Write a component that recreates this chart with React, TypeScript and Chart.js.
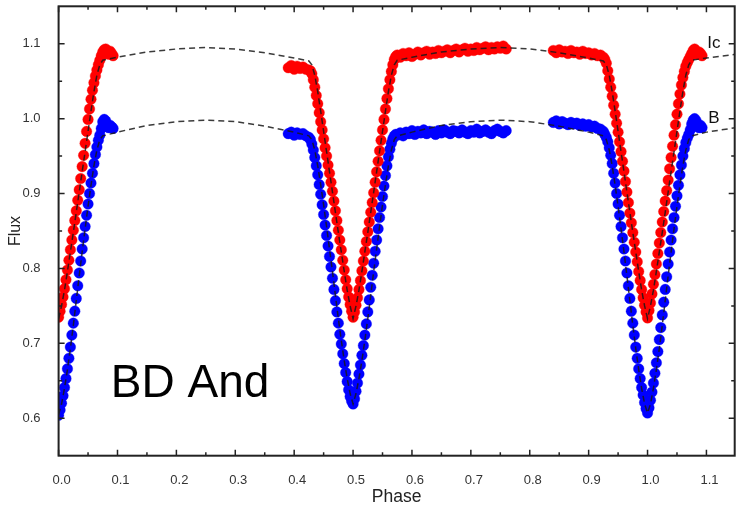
import React, { useEffect, useRef } from "react";
import { Chart, registerables } from "chart.js";
Chart.register(...registerables);

const FONT = '"Liberation Sans", Arial, sans-serif';

const starName = "BD And";
const xTitle = "Phase";
const yTitle = "Flux";
const seriesNames = ["Ic", "B"];

const xMajor = [0, 0.1, 0.2, 0.3, 0.4, 0.5, 0.6, 0.7, 0.8, 0.9, 1.0, 1.1];
const xMinor = [0.05, 0.15, 0.25, 0.35, 0.45, 0.55, 0.65, 0.75, 0.85, 0.95, 1.05];
const yMajor = [0.6, 0.7, 0.8, 0.9, 1.0, 1.1];
const yMinor = [0.65, 0.75, 0.85, 0.95, 1.05];

// observed phases (shared grid for both filters)
const seg1Phase = [0, 0.0025, 0.005, 0.0075, 0.01, 0.0125, 0.015, 0.0175, 0.02, 0.0225, 0.025, 0.0275, 0.03, 0.0325, 0.035, 0.0375, 0.04, 0.0425, 0.045, 0.0475, 0.05, 0.0525, 0.055, 0.0575, 0.06, 0.0625, 0.065, 0.0675, 0.07, 0.0725, 0.075, 0.0775, 0.08, 0.0825, 0.085, 0.0875, 0.09, 0.0925];
const seg2Phase = [0.39, 0.395, 0.4, 0.405, 0.41, 0.415, 0.42, 0.425,
  0.4275, 0.43, 0.4325, 0.435, 0.4375, 0.44, 0.4425, 0.445, 0.4475, 0.45, 0.4525, 0.455, 0.4575, 0.46, 0.4625, 0.465, 0.4675, 0.47, 0.4725, 0.475, 0.4775, 0.48, 0.4825, 0.485, 0.4875, 0.49, 0.4925, 0.495, 0.4975, 0.5,
  0.5025, 0.505, 0.5075, 0.51, 0.5125, 0.515, 0.5175, 0.52, 0.5225, 0.525, 0.5275, 0.53, 0.5325, 0.535, 0.5375, 0.54, 0.5425, 0.545, 0.5475, 0.55, 0.5525, 0.555, 0.5575, 0.56, 0.5625, 0.565, 0.5675, 0.57, 0.5725,
  0.575, 0.58, 0.585, 0.59, 0.595, 0.6, 0.605, 0.61, 0.615, 0.62, 0.625, 0.63, 0.635, 0.64, 0.645, 0.65, 0.655, 0.66, 0.665, 0.67, 0.675, 0.68, 0.685, 0.69, 0.695, 0.7, 0.705, 0.71, 0.715, 0.72, 0.725, 0.73, 0.735, 0.74, 0.745, 0.75, 0.755, 0.76];
const seg3Phase = [0.84, 0.845, 0.85, 0.855, 0.86, 0.865, 0.87, 0.875, 0.88, 0.885, 0.89, 0.895, 0.9, 0.905, 0.91, 0.915, 0.92, 0.925,
  0.9275, 0.93, 0.9325, 0.935, 0.9375, 0.94, 0.9425, 0.945, 0.9475, 0.95, 0.9525, 0.955, 0.9575, 0.96, 0.9625, 0.965, 0.9675, 0.97, 0.9725, 0.975, 0.9775, 0.98, 0.9825, 0.985, 0.9875, 0.99, 0.9925, 0.995, 0.9975, 1.0,
  1.0025, 1.005, 1.0075, 1.01, 1.0125, 1.015, 1.0175, 1.02, 1.0225, 1.025, 1.0275, 1.03, 1.0325, 1.035, 1.0375, 1.04, 1.0425, 1.045, 1.0475, 1.05, 1.0525, 1.055, 1.0575, 1.06, 1.0625, 1.065, 1.0675, 1.07, 1.0725,
  1.075, 1.0775, 1.08, 1.0825, 1.085, 1.0875, 1.09, 1.0925];

// Ic observed flux
const icSeg1 = [0.735, 0.743, 0.752, 0.762, 0.773, 0.785, 0.798, 0.811, 0.825, 0.838, 0.851, 0.864, 0.877, 0.891, 0.905, 0.920, 0.936, 0.951, 0.967, 0.983, 0.999, 1.013, 1.026, 1.038, 1.048, 1.057, 1.065, 1.072, 1.078, 1.084, 1.089, 1.092, 1.093, 1.088, 1.086, 1.090, 1.087, 1.084];
const icSeg2 = [1.068, 1.071, 1.066, 1.070, 1.067, 1.069, 1.066, 1.065,
  1.064, 1.060, 1.052, 1.042, 1.031, 1.020, 1.008, 0.996, 0.985, 0.973, 0.961, 0.950, 0.938, 0.927, 0.915, 0.903, 0.890, 0.877, 0.864, 0.851, 0.838, 0.825, 0.811, 0.798, 0.785, 0.773, 0.762, 0.752, 0.743, 0.735,
  0.742, 0.751, 0.761, 0.772, 0.784, 0.797, 0.810, 0.823, 0.836, 0.849, 0.862, 0.875, 0.888, 0.901, 0.915, 0.929, 0.943, 0.957, 0.971, 0.985, 0.999, 1.013, 1.027, 1.040, 1.052, 1.063, 1.072, 1.079, 1.083,
  1.085, 1.082, 1.087, 1.084, 1.088, 1.083, 1.086, 1.089, 1.085, 1.088, 1.090, 1.086, 1.089, 1.087, 1.091, 1.088, 1.090, 1.092, 1.088, 1.091, 1.093, 1.089, 1.092, 1.094, 1.090, 1.093, 1.091, 1.095, 1.092, 1.094, 1.096, 1.092, 1.095, 1.093, 1.096, 1.094, 1.097, 1.093];
const icSeg3 = [1.091, 1.088, 1.092, 1.089, 1.090, 1.087, 1.091, 1.088, 1.089, 1.086, 1.090, 1.087, 1.088, 1.085, 1.087, 1.084, 1.085, 1.082,
  1.079, 1.074, 1.064, 1.053, 1.042, 1.030, 1.018, 1.006, 0.994, 0.982, 0.969, 0.956, 0.943, 0.930, 0.916, 0.902, 0.888, 0.874, 0.861, 0.848, 0.835, 0.822, 0.809, 0.796, 0.784, 0.772, 0.761, 0.751, 0.742, 0.734,
  0.744, 0.754, 0.766, 0.779, 0.792, 0.806, 0.820, 0.834, 0.848, 0.862, 0.876, 0.890, 0.904, 0.918, 0.933, 0.948, 0.963, 0.978, 0.992, 1.006, 1.020, 1.033, 1.045, 1.055, 1.063, 1.070, 1.075, 1.079, 1.083,
  1.087, 1.091, 1.093, 1.090, 1.086, 1.089, 1.087, 1.084];

// B observed flux
const bSeg1 = [0.604, 0.611, 0.620, 0.630, 0.641, 0.653, 0.666, 0.680, 0.695, 0.711, 0.727, 0.743, 0.760, 0.777, 0.794, 0.810, 0.826, 0.841, 0.856, 0.871, 0.886, 0.900, 0.914, 0.927, 0.940, 0.952, 0.962, 0.971, 0.978, 0.987, 0.996, 0.999, 0.997, 0.990, 0.988, 0.991, 0.989, 0.987];
const bSeg2 = [0.980, 0.982, 0.978, 0.981, 0.979, 0.980, 0.977, 0.975,
  0.972, 0.966, 0.958, 0.948, 0.937, 0.925, 0.912, 0.899, 0.885, 0.872, 0.858, 0.844, 0.830, 0.816, 0.802, 0.787, 0.772, 0.757, 0.742, 0.727, 0.712, 0.699, 0.686, 0.673, 0.661, 0.649, 0.638, 0.629, 0.623, 0.619,
  0.626, 0.636, 0.647, 0.659, 0.671, 0.684, 0.697, 0.711, 0.726, 0.742, 0.758, 0.775, 0.791, 0.807, 0.823, 0.838, 0.853, 0.868, 0.882, 0.896, 0.910, 0.924, 0.937, 0.949, 0.959, 0.967, 0.973, 0.977, 0.979,
  0.978, 0.981, 0.977, 0.982, 0.980, 0.984, 0.979, 0.983, 0.981, 0.985, 0.980, 0.983, 0.982, 0.979, 0.984, 0.981, 0.985, 0.982, 0.980, 0.984, 0.983, 0.981, 0.985, 0.982, 0.980, 0.984, 0.982, 0.986, 0.981, 0.983, 0.985, 0.982, 0.980, 0.984, 0.986, 0.983, 0.981, 0.984];
const bSeg3 = [0.995, 0.997, 0.993, 0.996, 0.994, 0.992, 0.995, 0.993, 0.994, 0.991, 0.993, 0.990, 0.992, 0.989, 0.990, 0.987, 0.986, 0.983,
  0.979, 0.975, 0.969, 0.961, 0.951, 0.940, 0.927, 0.914, 0.900, 0.886, 0.871, 0.856, 0.841, 0.826, 0.810, 0.794, 0.777, 0.760, 0.743, 0.727, 0.711, 0.695, 0.680, 0.666, 0.653, 0.641, 0.631, 0.621, 0.613, 0.607,
  0.614, 0.624, 0.635, 0.647, 0.660, 0.674, 0.689, 0.705, 0.721, 0.738, 0.755, 0.772, 0.789, 0.806, 0.822, 0.838, 0.853, 0.868, 0.883, 0.897, 0.911, 0.925, 0.938, 0.950, 0.960, 0.968, 0.974, 0.979, 0.985,
  0.993, 0.998, 1.000, 0.997, 0.990, 0.988, 0.991, 0.988];

// model (dashed) curves
const modelPhase = [0, 0.005, 0.01, 0.015, 0.02, 0.025, 0.03, 0.035, 0.04, 0.045, 0.05, 0.055, 0.06, 0.065, 0.07, 0.075,
  0.1, 0.15, 0.2, 0.25, 0.3, 0.35, 0.4, 0.425,
  0.43, 0.435, 0.44, 0.445, 0.45, 0.455, 0.46, 0.465, 0.47, 0.475, 0.48, 0.485, 0.49, 0.495, 0.5, 0.505, 0.51, 0.515, 0.52, 0.525, 0.53, 0.535, 0.54, 0.545, 0.55, 0.555, 0.56, 0.565, 0.57,
  0.575, 0.6, 0.65, 0.7, 0.75, 0.8, 0.85, 0.9, 0.925,
  0.93, 0.935, 0.94, 0.945, 0.95, 0.955, 0.96, 0.965, 0.97, 0.975, 0.98, 0.985, 0.99, 0.995, 1.0, 1.005, 1.01, 1.015, 1.02, 1.025, 1.03, 1.035, 1.04, 1.045, 1.05, 1.055, 1.06, 1.065, 1.07,
  1.075, 1.1, 1.15];
const icModel = [0.733, 0.750, 0.771, 0.796, 0.822, 0.848, 0.875, 0.902, 0.929, 0.956, 0.983, 1.010, 1.036, 1.058, 1.072, 1.078,
  1.082, 1.089, 1.093, 1.095, 1.093, 1.088, 1.081, 1.077,
  1.072, 1.058, 1.036, 1.010, 0.983, 0.956, 0.929, 0.902, 0.875, 0.848, 0.822, 0.796, 0.771, 0.750, 0.733, 0.750, 0.771, 0.796, 0.822, 0.848, 0.875, 0.902, 0.929, 0.956, 0.983, 1.010, 1.036, 1.058, 1.072,
  1.078, 1.082, 1.089, 1.093, 1.095, 1.093, 1.088, 1.081, 1.077,
  1.072, 1.058, 1.036, 1.010, 0.983, 0.956, 0.929, 0.902, 0.875, 0.848, 0.822, 0.796, 0.771, 0.750, 0.733, 0.750, 0.771, 0.796, 0.822, 0.848, 0.875, 0.902, 0.929, 0.956, 0.983, 1.010, 1.036, 1.058, 1.072,
  1.078, 1.081, 1.086];
const bModel = [0.605, 0.619, 0.640, 0.665, 0.693, 0.724, 0.757, 0.790, 0.822, 0.853, 0.883, 0.911, 0.937, 0.958, 0.972, 0.977,
  0.982, 0.991, 0.996, 0.998, 0.996, 0.990, 0.982, 0.977,
  0.972, 0.958, 0.937, 0.912, 0.885, 0.856, 0.826, 0.796, 0.764, 0.733, 0.704, 0.677, 0.653, 0.633, 0.619, 0.633, 0.653, 0.677, 0.704, 0.733, 0.764, 0.796, 0.826, 0.856, 0.885, 0.912, 0.937, 0.958, 0.972,
  0.977, 0.982, 0.991, 0.996, 0.998, 0.996, 0.990, 0.982, 0.977,
  0.972, 0.958, 0.937, 0.911, 0.883, 0.853, 0.822, 0.790, 0.757, 0.724, 0.693, 0.665, 0.640, 0.619, 0.607, 0.619, 0.640, 0.665, 0.693, 0.724, 0.757, 0.790, 0.822, 0.853, 0.883, 0.911, 0.937, 0.958, 0.972,
  0.977, 0.982, 0.988];

function pts(ph: number[], fl: number[]) {
  return ph.map((x, i) => ({ x, y: fl[i] }));
}

export default function App() {
  const ref = useRef<HTMLCanvasElement>(null);
  useEffect(() => {
    const canvas = ref.current!;
    const icPts = [...pts(seg1Phase, icSeg1), ...pts(seg2Phase, icSeg2), ...pts(seg3Phase, icSeg3)];
    const bPts = [...pts(seg1Phase, bSeg1), ...pts(seg2Phase, bSeg2), ...pts(seg3Phase, bSeg3)];

    const boxPlugin = {
      id: "boxTicks",
      afterDatasetsDraw(chart: any) {
        const { ctx, chartArea: a, scales } = chart;
        const xs = scales.x, ys = scales.y;
        ctx.save();
        ctx.strokeStyle = "#222";
        ctx.lineWidth = 1.5;
        ctx.beginPath();
        const xt = (vals: number[], len: number) => {
          for (const v of vals) {
            const p = xs.getPixelForValue(v);
            ctx.moveTo(p, a.bottom); ctx.lineTo(p, a.bottom - len);
            ctx.moveTo(p, a.top); ctx.lineTo(p, a.top + len);
          }
        };
        const yt = (vals: number[], len: number) => {
          for (const v of vals) {
            const p = ys.getPixelForValue(v);
            ctx.moveTo(a.left, p); ctx.lineTo(a.left + len, p);
            ctx.moveTo(a.right, p); ctx.lineTo(a.right - len, p);
          }
        };
        xt(xMajor, 6); xt(xMinor, 3.5); yt(yMajor, 6); yt(yMinor, 3.5);
        ctx.stroke();
        ctx.lineWidth = 2;
        ctx.strokeRect(a.left, a.top, a.right - a.left, a.bottom - a.top);

        ctx.fillStyle = "#000";
        ctx.textAlign = "left";
        ctx.textBaseline = "alphabetic";
        ctx.font = `46px ${FONT}`;
        ctx.fillText(starName, xs.getPixelForValue(0.0886), ys.getPixelForValue(0.6287));
        ctx.font = `17px ${FONT}`;
        ctx.fillStyle = "#111";
        ctx.textBaseline = "middle";
        ctx.fillText(seriesNames[0], xs.getPixelForValue(1.1015), ys.getPixelForValue(1.101));
        ctx.fillText(seriesNames[1], xs.getPixelForValue(1.103), ys.getPixelForValue(1.0006));
        ctx.restore();
      },
    };

    const chart = new Chart(canvas, {
      type: "scatter",
      data: {
        datasets: [
          {
            type: "line",
            label: "Ic model",
            data: pts(modelPhase, icModel),
            borderColor: "rgba(25,25,25,0.85)",
            borderWidth: 1.5,
            borderDash: [6, 4],
            pointRadius: 0,
            fill: false,
            tension: 0,
            order: 0,
          } as any,
          {
            type: "line",
            label: "B model",
            data: pts(modelPhase, bModel),
            borderColor: "rgba(25,25,25,0.85)",
            borderWidth: 1.5,
            borderDash: [6, 4],
            pointRadius: 0,
            fill: false,
            tension: 0,
            order: 0,
          } as any,
          {
            label: "Ic",
            data: icPts,
            pointRadius: 5.3,
            pointBackgroundColor: "#ff0000",
            pointBorderColor: "rgba(255,0,0,0.35)",
            pointBorderWidth: 1,
            order: 1,
          },
          {
            label: "B",
            data: bPts,
            pointRadius: 5.3,
            pointBackgroundColor: "#0000ff",
            pointBorderColor: "rgba(0,0,255,0.35)",
            pointBorderWidth: 1,
            order: 1,
          },
        ],
      },
      options: {
        responsive: false,
        animation: false,
        devicePixelRatio: 1,
        layout: { padding: { top: 6, right: 3.3, left: 0, bottom: 0 } },
        plugins: { legend: { display: false }, tooltip: { enabled: false } },
        scales: {
          x: {
            type: "linear",
            min: 0,
            max: 1.148,
            grid: { display: false },
            border: { display: false },
            afterBuildTicks: (s: any) => { s.ticks = xMajor.map((v) => ({ value: v })); },
            afterFit: (s: any) => { s.height = 50.3; s.paddingLeft = 0; s.paddingRight = 0; },
            ticks: {
              padding: 9,
              labelOffset: 3,
              color: "#333",
              font: { family: FONT, size: 13 },
              maxRotation: 0,
              callback: (v: any) => Number(v).toFixed(1),
            },
            title: { display: true, text: xTitle, color: "#222", font: { family: FONT, size: 17.5 }, padding: { top: 0, bottom: -2 } },
          },
          y: {
            type: "linear",
            min: 0.55,
            max: 1.15,
            grid: { display: false },
            border: { display: false },
            afterBuildTicks: (s: any) => { s.ticks = yMajor.map((v) => ({ value: v })); },
            afterFit: (s: any) => { s.width = 58.6; s.paddingTop = 0; s.paddingBottom = 0; },
            ticks: {
              padding: 10,
              color: "#333",
              font: { family: FONT, size: 13 },
              callback: (v: any) => Number(v).toFixed(1),
            },
            title: { display: true, text: yTitle, color: "#222", font: { family: FONT, size: 16 }, padding: { top: 5.5, bottom: 0 } },
          },
        },
      },
      plugins: [boxPlugin],
    });
    return () => chart.destroy();
  }, []);

  return (
    <div style={{ position: "fixed", left: 0, top: 0, width: 741, height: 506, background: "#fff" }}>
      <canvas ref={ref} width={741} height={506} style={{ width: 741, height: 506, display: "block" }} />
    </div>
  );
}
